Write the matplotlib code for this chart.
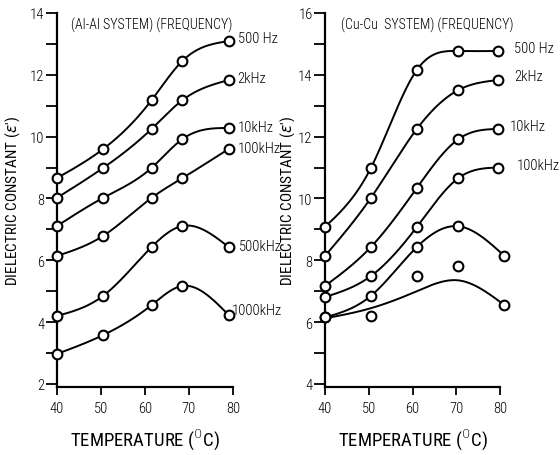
import numpy as np
import matplotlib
matplotlib.use("Agg")
import matplotlib.pyplot as plt

FONT = 'Roboto Condensed'
plt.rcParams['font.family'] = [FONT, 'DejaVu Sans']
plt.rcParams['font.weight'] = 'light'
plt.rcParams['mathtext.fontset'] = 'custom'
plt.rcParams['mathtext.rm'] = FONT + ':light'
plt.rcParams['mathtext.it'] = 'DejaVu Sans:italic'

# ---------------- data ----------------
freq_labels = ["500 Hz", "2kHz", "10kHz", "100kHz", "500kHz", "1000kHz"]

temps_al = [40, 50.5, 61.5, 68.5, 79]
al_500hz = [8.66, 9.60, 11.18, 12.45, 13.09]
al_2khz = [8.02, 8.99, 10.25, 11.18, 11.83]
al_10khz = [7.11, 8.02, 8.99, 9.92, 10.28]
al_100khz = [6.14, 6.79, 8.02, 8.66, 9.60]
al_500khz = [4.20, 4.85, 6.43, 7.11, 6.43]
al_1000khz = [2.97, 3.58, 4.55, 5.17, 4.23]

temps_cu = [40, 50.5, 61, 70.5, 79.5]
temps_cu_low = [40, 50.5, 61, 70.5, 81]
cu_500hz = [9.08, 10.99, 14.16, 14.77, 14.77]
cu_2khz = [8.14, 10.02, 12.25, 13.51, 13.83]
cu_10khz = [7.17, 8.43, 10.34, 11.92, 12.25]
cu_100khz = [6.81, 7.49, 9.08, 10.66, 11.00]
cu_500khz = [6.15, 6.85, 8.43, 9.10, 8.14]
cu_1000khz = [6.15, 6.20, 7.49, 7.82, 6.55]
# smoothed (fitted) curve for the 1000 kHz Cu-Cu series
cu_1000khz_fit = [6.12, 6.45, 7.0, 7.35, 6.55]

x_ticks = [40, 50, 60, 70, 80]
al_yticks = [2, 4, 6, 8, 10, 12, 14]
cu_yticks = [4, 6, 8, 10, 12, 14, 16]


def natural_spline(x, y, xs):
    x = np.asarray(x, float); y = np.asarray(y, float)
    n = len(x)
    h = np.diff(x)
    A = np.zeros((n, n)); b = np.zeros(n)
    A[0, 0] = 1; A[-1, -1] = 1
    for i in range(1, n - 1):
        A[i, i - 1] = h[i - 1]
        A[i, i] = 2 * (h[i - 1] + h[i])
        A[i, i + 1] = h[i]
        b[i] = 6 * ((y[i + 1] - y[i]) / h[i] - (y[i] - y[i - 1]) / h[i - 1])
    M = np.linalg.solve(A, b)
    out = np.empty_like(xs)
    for k, xv in enumerate(xs):
        i = min(max(np.searchsorted(x, xv) - 1, 0), n - 2)
        t1 = x[i + 1] - xv; t0 = xv - x[i]
        out[k] = (M[i] * t1 ** 3 + M[i + 1] * t0 ** 3) / (6 * h[i]) \
            + (y[i] / h[i] - M[i] * h[i] / 6) * t1 \
            + (y[i + 1] / h[i] - M[i + 1] * h[i] / 6) * t0
    return out


fig = plt.figure(figsize=(5.6, 4.56), dpi=100)
ax1 = fig.add_axes([57 / 560, 1 - 388 / 456, 176 / 560, 374 / 456])
ax2 = fig.add_axes([325 / 560, 1 - 388 / 456, 175 / 560, 374 / 456])

lw = 1.4
mk = dict(marker='o', ms=7, mfc='white', mec='black', mew=1.5, ls='none',
          clip_on=False, zorder=5)
fs = 10.5


def draw(ax, series, label_offsets):
    for (xs, ys, fit, lab), (dx, dy) in zip(series, label_offsets):
        xf = np.linspace(xs[0], xs[-1], 200)
        yf = natural_spline(xs, fit if fit is not None else ys, xf)
        ax.plot(xf, yf, color='black', lw=lw, clip_on=False, zorder=3)
        ax.plot(xs, ys, **mk)
        ax.annotate(lab, (xs[-1], ys[-1]), xytext=(dx, dy),
                    textcoords='offset pixels', fontsize=fs,
                    va='center', ha='left')


al_series = [
    (temps_al, al_500hz, None, freq_labels[0]),
    (temps_al, al_2khz, None, freq_labels[1]),
    (temps_al, al_10khz, None, freq_labels[2]),
    (temps_al, al_100khz, None, freq_labels[3]),
    (temps_al, al_500khz, None, freq_labels[4]),
    (temps_al, al_1000khz, None, freq_labels[5]),
]
al_offsets = [(9, 3), (9, 2), (9, 1), (9, 1), (10, 1), (3, 5)]
draw(ax1, al_series, al_offsets)

cu_series = [
    (temps_cu, cu_500hz, None, freq_labels[0]),
    (temps_cu, cu_2khz, None, freq_labels[1]),
    (temps_cu, cu_10khz, None, freq_labels[2]),
    (temps_cu, cu_100khz, None, freq_labels[3]),
    (temps_cu_low, cu_500khz, None, freq_labels[4]),
    (temps_cu_low, cu_1000khz, cu_1000khz_fit, freq_labels[5]),
]
cu_offsets = [(16, 3), (16, 4), (12, 3), (19, 3), (10, -6), (4, -2)]
draw(ax2, cu_series, cu_offsets)

for ax, yt, ylo, yhi, ttl, tx, ylp in [
        (ax1, al_yticks, 1.9, 14, "(Al-Al SYSTEM) (FREQUENCY)", 0.54, 6),
        (ax2, cu_yticks, 3.9, 16, "(Cu-Cu  SYSTEM) (FREQUENCY)", 0.585, 1)]:
    ax.set_xlim(40, 80)
    ax.set_ylim(ylo, yhi)
    ax.spines['top'].set_visible(False)
    ax.spines['right'].set_visible(False)
    ax.spines['left'].set_linewidth(1.6)
    ax.spines['bottom'].set_linewidth(1.6)
    ax.set_xticks(x_ticks)
    ax.set_yticks(yt)
    ax.set_yticks([v + 1 for v in yt[:-1]], minor=True)
    ax.tick_params(axis='y', which='both', direction='out', length=8, width=1.3,
                   labelsize=fs, pad=1)
    ax.tick_params(axis='x', direction='out', length=6, width=1.3,
                   labelsize=fs, pad=4)
    ax.set_xlabel("TEMPERATURE ($^{\\mathsf{0}}$C)", fontsize=13.5, labelpad=9)
    ax.set_ylabel("DIELECTRIC CONSTANT ($\\epsilon$')", fontsize=11, labelpad=ylp)
    ax.text(tx, 0.97, ttl, transform=ax.transAxes, ha='center', va='center',
            fontsize=10)

fig.savefig("out.png", dpi=100)
